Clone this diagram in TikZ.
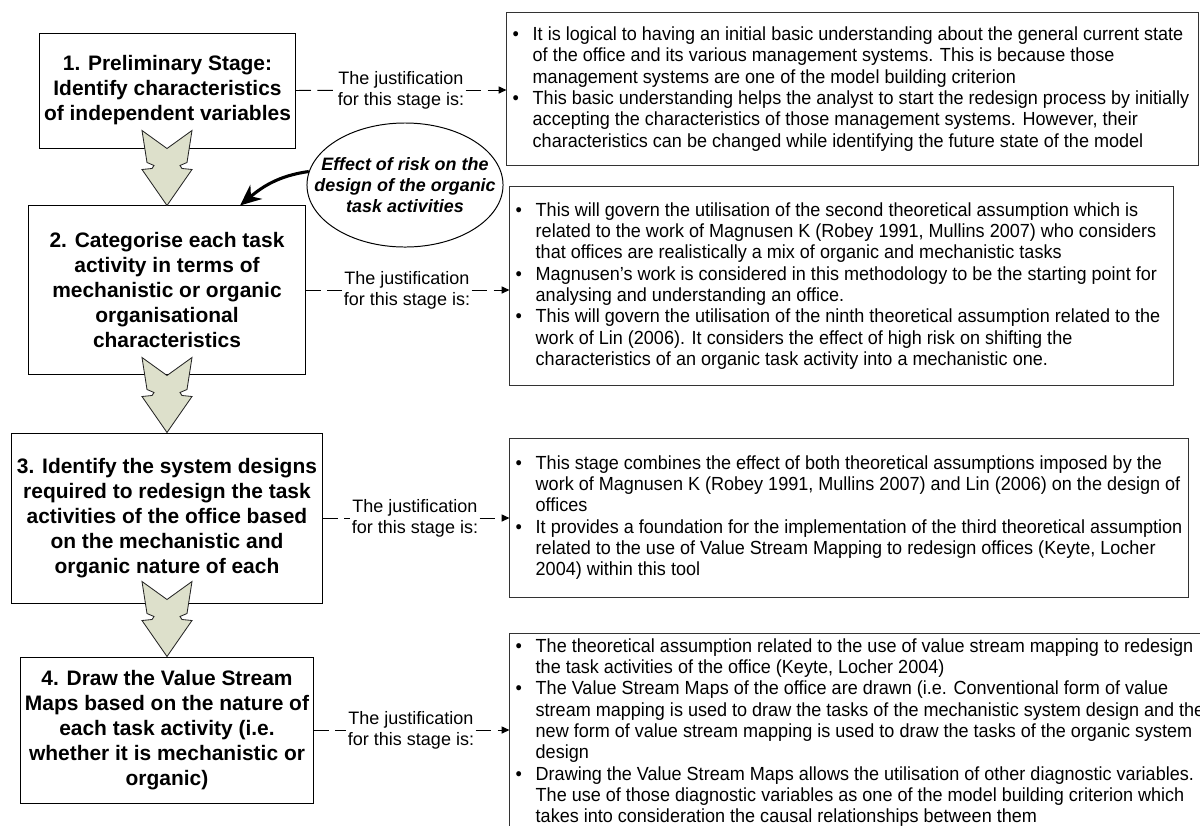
\documentclass[tikz,border=0pt]{standalone}
\usepackage{fontspec}
\setmainfont{Liberation Sans}
\newfontfamily\narrowfont[FakeStretch=0.95]{Liberation Sans}
\usepackage{tikz}
\usetikzlibrary{shapes.geometric,arrows.meta,positioning,calc}

\definecolor{arrowfill}{RGB}{221,224,203}

% bullet and hanging indent for the justification notes
\newcommand{\bul}{\makebox[0.5cm][l]{\textbullet}}
\newcommand{\ind}{\hspace*{0.5cm}}

\begin{document}
\begin{tikzpicture}[
  x=0.025cm, y=-0.025cm,
  stagebox/.style={draw, line width=0.7pt, align=center, inner sep=0pt,
    font=\fontsize{14.9}{17.8}\selectfont\bfseries},
  notebox/.style={draw=black!80, line width=0.7pt, inner sep=0pt},
  notetext/.style={anchor=west, align=left, inner xsep=0.15cm, inner ysep=0pt,
    font=\narrowfont\fontsize{13.5}{15.15}\selectfont},
  justlabel/.style={align=center, inner sep=1pt, font=\fontsize{12.8}{15}\selectfont},
  justline/.style={line width=0.7pt, dash pattern=on 11pt off 4.5pt},
  riskbubble/.style={ellipse, draw, line width=0.7pt, fill=white, inner sep=0pt},
  risktext/.style={align=center, inner sep=0pt,
    font=\fontsize{12.75}{15}\selectfont\bfseries\itshape},
  flowarrow/.style={draw=black!85, line width=0.6pt, fill=arrowfill, line join=miter},
  >=Stealth
]
\useasboundingbox (0,0) rectangle (1200,825);
\clip (0,0) rectangle (1200,825);

% -- the four stages, one under the other
\node[stagebox, minimum width=6.375cm, minimum height=2.875cm] (s1) at (167.5,90.5)
  {1. Preliminary Stage:\\Identify characteristics\\of independent variables};
\node[stagebox, minimum width=6.9cm, minimum height=4.2cm] (s2) at (167,290)
  {2. Categorise each task\\activity in terms of\\mechanistic or organic\\organisational\\characteristics};
\node[stagebox, minimum width=7.75cm, minimum height=4.25cm] (s3) at (167,518)
  {3. Identify the system designs\\required to redesign the task\\activities of the office based\\on the mechanistic and\\organic nature of each};
\node[stagebox, minimum width=7.3cm, minimum height=3.65cm] (s4) at (167,730)
  {4. Draw the Value Stream\\Maps based on the nature of\\each task activity (i.e.\\whether it is mechanistic or\\organic)};

% -- notes on the right (the last one runs off the page)
\node[notebox, minimum width=17.275cm, minimum height=3.8cm] (r1) at (852.5,89) {};
\node[notetext] (r1txt) at (r1.west) {%
\bul It is logical to having an initial basic understanding about the general current state\\
\ind of the office and its various management systems. This is because those\\
\ind management systems are one of the model building criterion\\
\bul This basic understanding helps the analyst to start the redesign process by initially\\
\ind accepting the characteristics of those management systems. However, their\\
\ind characteristics can be changed while identifying the future state of the model};

\node[notebox, minimum width=16.575cm, minimum height=4.95cm] (r2) at (841.5,286) {};
\node[notetext] (r2txt) at (r2.west) {%
\bul This will govern the utilisation of the second theoretical assumption which is\\
\ind related to the work of Magnusen K (Robey 1991, Mullins 2007) who considers\\
\ind that offices are realistically a mix of organic and mechanistic tasks\\
\bul Magnusen’s work is considered in this methodology to be the starting point for\\
\ind analysing and understanding an office.\\
\bul This will govern the utilisation of the ninth theoretical assumption related to the\\
\ind work of Lin (2006). It considers the effect of high risk on shifting the\\
\ind characteristics of an organic task activity into a mechanistic one.};

\node[notebox, minimum width=16.95cm, minimum height=3.975cm] (r3) at (849,517.5) {};
\node[notetext] (r3txt) at (r3.west) {%
\bul This stage combines the effect of both theoretical assumptions imposed by the\\
\ind work of Magnusen K (Robey 1991, Mullins 2007) and Lin (2006) on the design of\\
\ind offices\\
\bul It provides a foundation for the implementation of the third theoretical assumption\\
\ind related to the use of Value Stream Mapping to redesign offices (Keyte, Locher\\
\ind 2004) within this tool};

\node[notebox, minimum width=18cm, minimum height=4.975cm] (r4) at (870,732.5) {};
\node[notetext] (r4txt) at (r4.west) {%
\bul The theoretical assumption related to the use of value stream mapping to redesign\\
\ind the task activities of the office (Keyte, Locher 2004)\\
\bul The Value Stream Maps of the office are drawn (i.e. Conventional form of value\\
\ind stream mapping is used to draw the tasks of the mechanistic system design and the\\
\ind new form of value stream mapping is used to draw the tasks of the organic system\\
\ind design\\
\bul Drawing the Value Stream Maps allows the utilisation of other diagnostic variables.\\
\ind The use of those diagnostic variables as one of the model building criterion which\\
\ind takes into consideration the causal relationships between them};

% -- justification labels and their dashed links
\node[justlabel] (j1) at (401,90) {The justification\\for this stage is:};
\node[justlabel] (j2) at (407,290) {The justification\\for this stage is:};
\node[justlabel] (j3) at (415,518) {The justification\\for this stage is:};
\node[justlabel] (j4) at (411,730) {The justification\\for this stage is:};

\foreach \n in {1,2,3,4} {
  \draw[justline] (s\n.east) -- (j\n);
  \draw[justline, -{Triangle[length=5.5pt,width=5pt]}] (j\n) -- (j\n -| r\n.west);
}

% -- block arrows between the stages
\foreach \s in {s2,s3,s4}
  \draw[flowarrow, shift={(\s.north)}] (-25,-75) -- (0,-57) -- (25,-75) -- (20,-43)
    -- (13,-40) -- (15,-37) -- (25,-36) -- (0,0) -- (-25,-36) -- (-15,-37)
    -- (-13,-40) -- (-20,-43) -- cycle;

% -- effect of risk feeds into stage 2
\node[riskbubble, minimum width=4.9cm, minimum height=3.1cm] (risk) at (405,185) {};
\node[risktext] (risktxt) at (risk.center)
  {Effect of risk on the\\design of the organic\\task activities};
\draw[line width=2.2pt, -{Stealth[length=15pt,width=13pt]}]
  (risk.172) to[out=188, in=40] ([xshift=1.825cm]s2.north);
\end{tikzpicture}
\end{document}
